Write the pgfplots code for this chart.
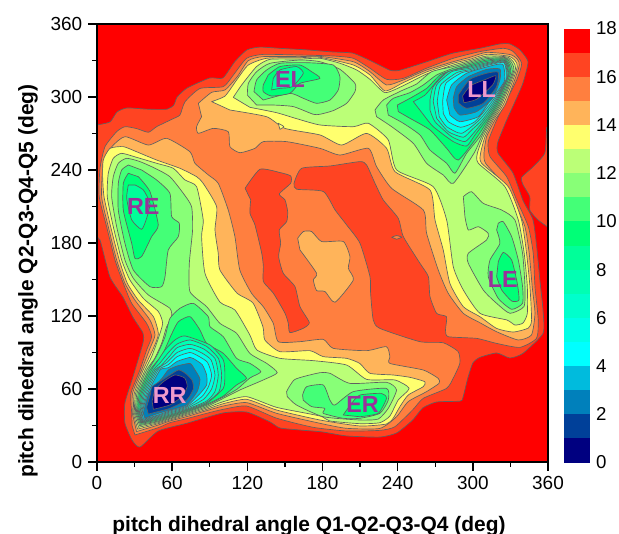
\documentclass[border=0pt]{standalone}
\usepackage{fontspec}
\setmainfont{Liberation Sans}
\usepackage{pgfplots}
\pgfplotsset{compat=1.18}
\definecolor{c0}{HTML}{000080}\definecolor{c1}{HTML}{004099}\definecolor{c2}{HTML}{0080BB}
\definecolor{c3}{HTML}{00BBDD}\definecolor{c4}{HTML}{00FFFF}\definecolor{c5}{HTML}{00FFE6}
\definecolor{c6}{HTML}{00FFCC}\definecolor{c7}{HTML}{00FFB3}\definecolor{c8}{HTML}{00FF99}
\definecolor{c9}{HTML}{00FF77}\definecolor{c10}{HTML}{44FF77}\definecolor{c11}{HTML}{88FF77}
\definecolor{c12}{HTML}{BBFF77}\definecolor{c13}{HTML}{FFFF6E}\definecolor{c14}{HTML}{FFB45A}
\definecolor{c15}{HTML}{FF7F3F}\definecolor{c16}{HTML}{FF4422}\definecolor{c17}{HTML}{FF0000}
\definecolor{cg}{HTML}{606060}\definecolor{lpink}{HTML}{EE99CC}\definecolor{lpurp}{HTML}{993399}
\pgfplotsset{lv/.style={draw=cg,line width=0.5pt,line join=round,mark=none,forget plot,smooth,tension=0.35}}
\begin{document}
\begin{tikzpicture}
\path[use as bounding box] (0,0) rectangle (464.25pt,400.5pt);
\begin{axis}[at={(72.75pt,54pt)},anchor=south west,scale only axis,width=338.25pt,height=328.5pt,
 xmin=0,xmax=360,ymin=0,ymax=360,xtick={0,60,...,360},ytick={0,60,...,360},minor x tick num=1,minor y tick num=1,
 xtick pos=bottom,ytick pos=left,tick align=outside,major tick length=6.6pt,minor tick length=3.6pt,
 tick style={black,line width=1.1pt},axis line style={line width=1.2pt},axis on top,
 /pgf/number format/assume math mode=true,
 tick label style={font=\fontsize{14.2}{15}\selectfont},
 xticklabel style={yshift=-0.5pt},yticklabel style={xshift=-1pt},
 xlabel={pitch dihedral angle Q1-Q2-Q3-Q4 (deg)},ylabel={pitch dihedral angle Q2-Q3-Q4-Q5 (deg)},
 label style={font=\fontsize{15.7}{17}\selectfont\bfseries},
 xlabel style={at={(axis description cs:0.47,-0.146)},anchor=center},
 ylabel style={at={(axis description cs:-0.153,0.413)},anchor=center}]
\addplot[fill=c17,draw=none,forget plot] coordinates {(0,0)(360,0)(360,360)(0,360)} --cycle;
% level 17
\addplot[lv,fill=c16] coordinates {(0,277)(10.4,279.5)(16,287.7)(24,291)(40,290)(56,290)(61.4,293.5)(64,300)(72,307.4)(90,315.6)(100.5,315.6)(110,329)(119.7,338.7)(130,341)(146,340)(167.6,338.7)(188.3,337)(204.3,336)(220,329)(233.8,322)(241.8,322)(263.3,329)(284,336)(305.6,340)(321.6,343.6)(329.6,343.6)(337.5,338.7)(344,329)(340,311.5)(333.6,296)(327,281)(320,263)(320,254)(332,237.6)(340,215)(348,199)(351,176.7)(353.5,149.6)(356,125)(356,105.7)(340,89.3)(329.6,85.5)(319,89.6)(305.6,86)(300,81.4)(296,69)(292,52.6)(289.7,50)(271,49.3)(260,44.4)(252,34.5)(239.4,24)(226,20.5)(199.5,21.4)(180,24.7)(162,26.3)(146,28)(138,33)(119.7,41)(100.5,40.3)(71.5,31.8)(48.9,25.5)(34.3,12.3)(28,18)(22.3,32)(22.3,48.5)(28.7,70)(36.7,97.8)(36.7,106)(28.7,119)(20.7,135.6)(10.4,152)(2.4,182.5)(-3,190.7)(-3,277)} --cycle;
\addplot[lv,fill=c16] coordinates {(362,275)(359,275)(357.5,254)(348,242.5)(339,234)(340,228)(345.5,218)(345.5,207)(352,199)(360,193)(362,193)} --cycle;
% level 16
\addplot[lv,fill=c15] coordinates {(30.3,22.2)(48.9,28.2)(58.2,32.3)(71.5,35.6)(87.5,40)(100.8,43.3)(119.4,46)(143.4,36)(172.6,28.5)(199.2,25.5)(225.8,26)(237.8,29)(252.4,43.3)(260.4,52.3)(279,60.5)(284.3,68.7)(289.6,81)(288.3,90.7)(276.3,98)(257.7,98.9)(225.8,109.8)(220.5,116.7)(218.4,138.7)(217.9,152.4)(209.9,179.8)(199.3,194.8)(190,207.2)(180.7,222.3)(159.4,224.2)(157.3,229.1)(163.4,241.4)(186,243.3)(209.9,246.9)(215.2,244.2)(221.9,229.1)(228.5,215.4)(240.5,200.3)(244.5,185.3)(257.8,163.3)(264.5,152.4)(265.8,136)(271.1,122.2)(279,119.4)(278.2,108.5)(280.3,103)(303,101.6)(318.9,97.5)(337.5,94.2)(350.8,101.6)(352.2,116.7)(349.6,144)(348.2,171.5)(344.3,193.4)(335,215.3)(327,234.5)(313.7,251)(312.3,263.3)(319,281)(327,297.5)(335,314)(339,327.7)(332.3,337.3)(324.3,340)(305.7,337.3)(284.4,331.8)(263,323.6)(244.5,315.3)(231.2,314.5)(217.9,323.6)(204.6,331.8)(188.6,333.7)(162,334.5)(132.7,335)(119.4,331.8)(108.8,318)(100.8,308.5)(82.2,307)(70.2,296)(66.2,285.2)(59.6,281.6)(47.6,275.6)(41,271)(31.7,274)(22.4,275.6)(15.7,271.5)(6.4,259.2)(2.4,241.4)(1.8,218)(7.7,193.4)(14.4,166)(21,146.9)(27.7,130.4)(39.6,114)(43.6,103)(39.6,92)(34.3,75.6)(27.1,56.4)(27.7,40)(28,30)} --cycle;
\addplot[lv,fill=c16] coordinates {(118.2,225)(130.1,240.6)(146.1,237.9)(154.6,235.1)(154.6,229.1)(145.5,220.3)(150.1,215.4)(152.2,205.8)(151.4,197.6)(145.5,190.7)(146.6,179.8)(145,168.8)(148.7,155.1)(158,144.2)(162,127.7)(169.5,114.6)(164.7,109.9)(154,106.3)(152.7,114)(150.1,122.2)(140.8,138.7)(132.8,148.3)(132.8,160.6)(131.5,171.6)(126.1,194.8)(122.1,204.4)(122.7,215.4)} --cycle;
\addplot[lv,fill=c15] coordinates {(235.2,184.7)(239.2,186.1)(243.2,184.7)(239.2,183.1)} --cycle;
% level 15
\addplot[lv,fill=c14] coordinates {(31.6,25)(48.9,30.4)(58.2,33.7)(71.5,37.3)(87.5,42.2)(100.8,46)(119.4,48.8)(143.4,40)(178,31.8)(199,27.7)(225.8,27.6)(239.1,37.2)(248.4,49.6)(263,57.8)(273,64.6)(272.4,68.7)(260.4,75.6)(233.8,81)(233.8,86.6)(231,94.8)(215.2,91.5)(188.6,93.4)(180.6,100.8)(162,98.9)(144.7,98.9)(140.7,114)(132.7,127.7)(123.4,138.6)(114,157.8)(110.1,185.2)(104.8,207)(96.8,229)(88.8,236)(78.2,245.5)(74.2,255)(55.6,266)(41,260.5)(22.4,267.4)(11.7,259)(5,245.5)(3.7,218)(9,193.4)(15.7,166)(22.3,146.9)(30.3,133)(42.3,116.7)(46.3,104.4)(42.3,93.4)(35.6,75.6)(28.4,56.4)(28.2,40)} --cycle;
\addplot[lv,fill=c14] coordinates {(80.9,294.8)(91.5,303.8)(102.2,305.8)(112,316.7)(120.8,329.9)(132.7,333.2)(162,333.2)(178,333.4)(204.6,329)(217.9,320.8)(231.2,309.9)(244.5,314)(263.1,322.2)(284.4,329)(297.7,332.6)(311,336.7)(331,334.5)(337.1,326.3)(326.4,294.8)(317.7,281.1)(311,267.4)(308.9,253.7)(310.2,245.5)(324.3,229)(333.6,212.6)(341.6,193.4)(345,171.5)(347.4,144.1)(349.6,122.2)(346.8,104.4)(336.2,100.3)(318.9,107.1)(305.6,114.5)(292.4,122.2)(280.4,138.6)(272.4,157.8)(263.1,188)(260.5,207.1)(235.2,224.9)(223.2,242.7)(216.6,257.8)(194,252.3)(178,257.8)(151.4,263.3)(132.7,263.3)(126.1,257.8)(114.1,254.2)(106.1,259.2)(104.8,271.5)(92.8,274.2)(80.9,270.1)(79.5,275.6)(83.5,283.8)} --cycle;
\addplot[lv,fill=c14] coordinates {(160.2,183.9)(164.7,189.4)(171.4,189.4)(179.3,181.2)(196.6,181.2)(201.9,168.8)(200.6,159.2)(204.6,149.6)(190,131.3)(182,140.1)(175.3,140.9)(172.7,149.6)(175.3,155.1)(162,174.3)} --cycle;
% level 14
\addplot[lv,fill=c13] coordinates {(32.4,27)(48.9,31.5)(58.2,34.5)(71.5,38.4)(87.5,43.3)(100.8,47.9)(119.4,51.5)(143.4,42.7)(178,34.5)(209.8,29.6)(231,31.2)(236.4,35.9)(241.8,45.5)(248.4,55)(260.4,61.9)(261.7,66)(249.7,69.6)(236.4,71.5)(217.8,72.9)(209.8,81)(199.2,85.2)(180.6,86.6)(170,91.5)(146,90.7)(134,100.3)(132.5,111)(124.5,130.7)(111.7,138.9)(98.1,157.8)(96.8,171.5)(94.2,190.7)(95.5,209.9)(84.8,229)(79.5,234.5)(66.2,241.4)(47.6,248.2)(31.6,255)(21,259.2)(10.4,257.8)(5,248.2)(4.5,234.5)(5.6,218)(10.9,193.4)(17.8,166)(24.2,146.9)(33,133)(45,119.5)(49,105.2)(45,93.4)(36.9,75.6)(29.8,56.4)(29,40)} --cycle;
\addplot[lv,fill=c13] coordinates {(91.5,296.2)(102.2,300.8)(111.5,314)(120.8,326.3)(135.4,331.8)(162,332.3)(178,332.6)(204.6,326.3)(217.9,318.1)(229.9,305)(244.5,311.8)(263.1,320.6)(284.4,327.7)(297.7,331)(311,335)(329.6,333.2)(335.5,325)(324.8,294.8)(316.3,281.1)(309.7,267.4)(306.2,253.7)(307,245.5)(328.3,226.3)(338.9,198.9)(342.9,171.5)(345.6,144.1)(346.9,116.7)(344.3,110.1)(332.3,106.8)(319,109.8)(305.7,119.4)(292.4,127.7)(281.7,146.8)(276.4,174.2)(269.8,198.9)(265.8,223.6)(237.9,238.6)(231.2,257.8)(215.2,270.1)(195.3,260.5)(178,268.8)(150,274.2)(135.4,283.8)(106.1,289.3)} --cycle;
\addplot[lv,fill=c13] coordinates {(144.7,278.4)(149.2,275.6)(146,273.4)} --cycle;
% level 13
\addplot[lv,fill=c12] coordinates {(33.2,28.5)(48.9,32.3)(58.2,35.3)(71.5,39.2)(87.5,44.4)(100.8,49.6)(119.4,53.7)(143.4,44.9)(178,37.8)(185.9,33.7)(209.8,31.5)(225.8,32.3)(233.8,37.8)(240.4,50.9)(249.2,60.5)(237.8,67.4)(215.2,67.9)(199.2,79.7)(172.6,83.3)(146,85.2)(127.7,92)(122,104.4)(110.1,124.9)(98.1,131.5)(86.2,155)(83.5,185.2)(84.8,198.9)(79.5,226.3)(70.2,231.8)(60.9,241.4)(47.6,245.5)(31.6,250.4)(19.7,253.7)(13,249.6)(9,237.3)(8.2,218)(13,193.4)(19.7,166)(26.3,149.6)(37,134.5)(49,123.6)(52.4,114)(49,101.7)(43.6,86.6)(38.3,75.6)(30.8,56.4)(29.8,40)} --cycle;
\addplot[lv,fill=c12] coordinates {(108.8,299.7)(115.5,309.9)(127.4,325)(138.1,331)(162,331.2)(178,331.8)(194,327.7)(207.3,322.2)(217.9,314.5)(229.9,303.6)(244.5,309.3)(263.1,318.9)(284.4,326.3)(297.7,329.9)(311,333.7)(328.3,332.6)(334.1,323.6)(323.5,294.8)(315.3,281.1)(308.3,267.4)(303.6,253.7)(304.4,245.5)(325.6,226.3)(336.3,198.9)(341,171.5)(343.5,144.1)(343.5,122.2)(340,114.2)(333.6,112.6)(327.2,116.7)(305.7,122.2)(292.4,141.4)(284.4,160.5)(279.1,198.9)(268.4,226.3)(239.2,240)(232.5,264.7)(216.6,278.4)(204.6,275.6)(178,277)(159.3,282.2)(143.4,287.1)(122.1,291.5)} --cycle;
% level 12
\addplot[lv,fill=c11] coordinates {(34,29.9)(48.9,33.1)(58.2,35.9)(71.5,40)(87.5,45.5)(100.8,52.3)(114.1,59.2)(132.7,67.4)(143.9,73.4)(135.4,81.1)(122,89.3)(111.4,105.8)(98.1,114)(87.5,127.7)(74.2,140)(73.7,163.3)(76.3,190.7)(75.5,209.9)(68.9,220.8)(58.2,234.5)(46.3,241.4)(34.3,246.9)(23.7,249.6)(17,245.5)(13,234.5)(11.7,218)(15.7,193.4)(22.3,166)(29,151)(41,137.3)(58.2,126.3)(59.6,118)(55.6,111.2)(51.6,97.5)(46,85)(39.6,75.6)(31.9,56.4)(30.6,40)} --cycle;
\addplot[lv,fill=c11] coordinates {(151.3,57.8)(158,67.9)(177.9,73.4)(185.9,72.9)(201.9,64.6)(231.1,65.5)(239.1,59.2)(232.5,44.1)(224.5,35.3)(209.8,34.5)(180.6,37.2)(159.3,46.8)(151.9,53.7)} --cycle;
\addplot[lv,fill=c11] coordinates {(120,301.6)(120.8,311.2)(127.4,320.8)(138.1,327.7)(162,330.4)(178,329)(194,322.7)(205.9,311.2)(205.9,304.4)(199.3,294.8)(188.6,288.8)(178,285.8)(172.6,285.8)(156.7,292.1)(140.7,293.4)(127.4,293.4)} --cycle;
\addplot[lv,fill=c11] coordinates {(221.9,289.3)(228.5,297.5)(243.2,305.2)(255.1,310.7)(267.1,320.8)(284.4,325)(297.7,328.8)(311,332.6)(327.5,332)(332.8,322.2)(322.4,294.8)(314.2,281.1)(307,267.4)(300.9,253.7)(284.4,229)(276.4,235.9)(263.1,245.5)(252.5,261.9)(235.2,275.6)(223.2,283.8)} --cycle;
\addplot[lv,fill=c11] coordinates {(292.4,218.1)(299,222.2)(308.3,212.6)(323,207.1)(333.6,198.9)(339.7,171.5)(341.6,144.1)(340.8,127.7)(329.6,122.2)(319,130.4)(308.3,141.4)(296.4,163.3)(296.4,171.5)(311,182.5)(312.3,188)(304.4,193.4)(296.4,190.7)(293.7,201.6)} --cycle;
% level 11
\addplot[lv,fill=c10] coordinates {(25,244.1)(19.7,240)(17,229)(17,207)(22.3,179.7)(29,157.8)(42.3,144.1)(51.6,144.1)(54.3,152.3)(56.9,174.3)(64.9,185.2)(65.7,196.2)(59.6,201.7)(58.2,220.8)(47.6,231.8)(35.6,240)} --cycle;
\addplot[lv,fill=c10] coordinates {(34.6,30.9)(48.9,33.7)(58.2,36.7)(71.5,40.8)(87.5,46.6)(100.8,53.4)(112,60)(122,69)(130.9,74.2)(122,81.1)(111.4,85.2)(100.8,103)(90.2,111.2)(88.8,119.5)(76.9,130.4)(66.2,126.3)(58.2,118)(54.3,103)(48,88)(41,75.6)(33,56.4)(31.4,40)} --cycle;
\addplot[lv,fill=c10] coordinates {(164.1,55)(167.3,61.9)(180.6,63.3)(185.9,50.9)(189.9,46.8)(204.5,57.8)(231.1,60.5)(232.5,50.9)(225.8,40)(209.8,35.9)(196.5,35.9)(180.6,40)(181.9,44.1)(171.3,45.5)(164.6,50.9)} --cycle;
\addplot[lv,fill=c10] coordinates {(125.3,304.4)(127.4,314)(135.4,322.2)(146,327.7)(167.3,328.2)(188.6,326.3)(193.9,316.7)(192.6,305.8)(186,297.5)(175.3,294.8)(164.7,298.9)(154,303)(132.7,297.5)} --cycle;
\addplot[lv,fill=c10] coordinates {(231.2,293.4)(236.5,298.9)(249.8,303.6)(260.5,309.9)(271.1,318.1)(284.4,323.6)(297.7,327.7)(311,331.5)(327,331.5)(331.5,320.8)(321.4,294.8)(313.1,281.1)(305.7,267.4)(295,253.7)(285.7,237.3)(279.1,245.5)(265.8,256.4)(257.8,268.8)(244.5,278.4)(232.5,285.2)} --cycle;
\addplot[lv,fill=c10] coordinates {(320.3,196.2)(324.3,197.5)(331,185.2)(336.3,166)(339.7,144.1)(339.7,130.4)(331,125.5)(320.3,134.5)(312.3,152.3)(313.7,166)(321.6,179.7)(319,190.7)} --cycle;
% level 10
\addplot[lv,fill=c9] coordinates {(25,237.3)(21,229)(21,207)(27.7,179.7)(30.3,167.4)(35.6,168.8)(43.6,185.2)(48.9,194.8)(42.3,222.2)(33,234.5)} --cycle;
\addplot[lv,fill=c9] coordinates {(35.1,31.8)(48.9,34.5)(58.2,37.3)(71.5,41.4)(87.5,47.4)(100.8,54.2)(111.4,63.3)(119.4,68.8)(111.4,77)(100.8,89.3)(87.5,97.5)(82.2,108.5)(74.2,119.5)(64.9,115.3)(59.6,105.2)(52,88)(42.3,75.6)(34,56.4)(32.2,40)} --cycle;
\addplot[lv,fill=c9] coordinates {(196.5,38.6)(203.2,48.2)(209.8,55)(227.1,56.4)(231.1,52.3)(224.5,40)(209.8,37.2)} --cycle;
\addplot[lv,fill=c9] coordinates {(132.7,309.9)(132.7,304.4)(139.4,300.8)(154,303)(162,311.2)(178,315.3)(171.3,320.8)(162,326.3)(146,325)(136.7,318.1)} --cycle;
\addplot[lv,fill=c9] coordinates {(239.7,293.4)(249.8,298.9)(263.1,307.1)(273.8,318.1)(284.4,322.2)(297.7,326.6)(311,330.4)(326.4,331)(330.2,320)(320.3,294.8)(312.1,281.1)(303.6,267.4)(288.4,248.2)(279.1,257.8)(265.8,272.9)(249.8,282.5)(240.5,288)} --cycle;
\addplot[lv,fill=c9] coordinates {(320.3,164.6)(324.3,172.3)(331,166)(335.5,146.8)(336.8,133.1)(331,132.3)(323,141.4)(319,152.3)} --cycle;
% level 9
\addplot[lv,fill=c8] coordinates {(25,227.7)(23.7,216.7)(27.7,199)(35.6,191.2)(39.6,200.3)(42.3,212.6)(37,223.6)(30.3,227.7)} --cycle;
\addplot[lv,fill=c8] coordinates {(35.4,32.3)(48.9,35.3)(58.2,38)(71.5,42.2)(87.5,48.2)(100.8,60.5)(102.1,71.5)(100.8,84)(90.2,96.2)(70.2,103.6)(62.2,100.3)(54.2,92)(48.9,83.8)(43.6,75.6)(35.1,56.4)(33,40)} --cycle;
\addplot[lv,fill=c8] coordinates {(139.4,305.8)(146,307.1)(156,308.5)(164.7,319.5)(159.4,325)(146,322.2)(140.7,315.3)} --cycle;
\addplot[lv,fill=c8] coordinates {(252.5,296.2)(261.8,301.6)(269.8,311.2)(277.8,319.5)(297.7,325.5)(311,329.3)(325.9,330.4)(329.1,319.5)(319.2,294.8)(310.7,281.1)(301.7,268.8)(295,259.7)(284.4,263.3)(268.4,275.6)(261.8,283.8)} --cycle;
% level 8
\addplot[lv,fill=c7] coordinates {(35.6,32.8)(48.9,36)(58.2,38.6)(71.5,42.7)(87.5,49)(97.5,58)(99.5,71.5)(97,85)(87.5,95)(74.2,100.3)(64,97)(57,90)(50,81)(45,75.6)(36.1,56.4)(33.8,40)} --cycle;
\addplot[lv,fill=c7] coordinates {(265.8,297.5)(268.4,308.5)(280.4,320.8)(297.7,324.7)(311,328.2)(325.6,329.9)(328.3,318.1)(318.2,294.8)(309.1,281.1)(300.4,270.1)(293.7,263.3)(283.1,267.4)(269.8,279.7)(265.8,289.3)} --cycle;
% level 7
\addplot[lv,fill=c6] coordinates {(35.9,33.1)(48.9,36.7)(58.2,39.4)(71.5,43.3)(87.5,50.1)(94.2,58)(96.8,71.5)(94.2,85)(85,93)(74.2,96.7)(64,94)(58,87)(51,79)(46.3,75.6)(37.2,56.4)(34.3,40)} --cycle;
\addplot[lv,fill=c6] coordinates {(268.4,296.2)(271.1,309.9)(283.1,320.8)(297.7,323.6)(311,327.4)(325.4,329.3)(327.8,316.7)(317.1,294.8)(307.5,281.1)(299,272.9)(292.4,266.9)(280.4,271.5)(271.1,282.5)} --cycle;
% level 6
\addplot[lv,fill=c5] coordinates {(36.2,33.7)(48.9,37.3)(58.2,40.3)(71.5,44.1)(85,51.5)(91.5,60)(94.2,71.5)(91,84)(83,90)(74.2,93.4)(64,90)(56,82)(47.6,75.6)(38.3,56.4)(34.8,40)} --cycle;
\addplot[lv,fill=c5] coordinates {(271.6,296.2)(274.3,309.9)(287.1,320)(297.7,322.5)(311,326.6)(325.1,328.8)(327,315.3)(315.8,294.8)(305.1,281.1)(291.1,270.1)(279.1,275.6)(273.2,283.8)} --cycle;
% level 5
\addplot[lv,fill=c4] coordinates {(36.4,34.2)(48.9,38)(58.2,41.1)(71.5,45)(84,54)(89,62)(91.5,71.5)(88.2,82)(81,87)(74.2,90)(64,86.6)(57,80)(48.9,75.6)(39.4,56.4)(35.4,40)} --cycle;
\addplot[lv,fill=c4] coordinates {(275.9,296.2)(278.5,311.2)(291.1,320)(297.7,321.4)(311,325.8)(324.8,328.2)(326.4,314)(314.2,294.8)(301.7,279.7)(290.3,275.1)(280.4,279.7)(276.4,286.6)} --cycle;
% level 4
\addplot[lv,fill=c3] coordinates {(37,35)(48.9,38.6)(58.2,41.9)(71.5,45.8)(82,56)(87.5,63.3)(87.5,71.5)(84,80)(77,85)(74.2,86)(64,82.7)(57,77.5)(50.3,75.6)(40.4,56.4)(35.9,40)} --cycle;
\addplot[lv,fill=c3] coordinates {(279.1,297.5)(283.1,309.9)(295,319.5)(311,324.7)(323.8,326.9)(325.1,312.6)(312.3,294.8)(304.4,283.8)(289.7,279.7)(281.7,285.2)} --cycle;
% level 3
\addplot[lv,fill=c2] coordinates {(38.3,36)(48.9,40)(58.2,42.7)(71.5,46.9)(80,58)(82.2,68)(78,76)(74.2,81)(64,78.9)(56.9,75.6)(51.9,68.8)(41.5,56.4)(37,40)} --cycle;
\addplot[lv,fill=c2] coordinates {(284.4,298.9)(287.1,308.5)(296.4,316.7)(311,322.7)(321.6,323)(321.6,314)(315.8,298.9)(303,288)(289.7,285.2)(284.9,291.5)} --cycle;
% level 2
\addplot[lv,fill=c1] coordinates {(41,39.4)(48.9,41.5)(58.2,44.1)(71.5,50.9)(76.9,60)(76,67)(71,72.5)(64.9,75.6)(54.2,68.8)(44,62)(42.8,56.4)(39.6,45)} --cycle;
\addplot[lv,fill=c1] coordinates {(288.4,301.7)(297.7,314.5)(311,319.5)(320.3,320.3)(319,308.5)(308.3,294.8)(295,290.7)(288.4,295.3)} --cycle;
% level 1
\addplot[lv,fill=c0] coordinates {(45,43.3)(58.2,46.9)(68,54)(72,62)(70,69)(62,71.5)(53,66)(46.3,59)(44,50)} --cycle;
\addplot[lv,fill=c0] coordinates {(291.8,300.8)(298.2,309.3)(311,314.8)(318.4,317.5)(315.8,309.9)(303,298.1)(292.9,295.3)} --cycle;
% labels
\node[font=\fontsize{17.5}{18}\selectfont\bfseries,text=lpink] at (axis cs:58,55) {RR};
\node[font=\fontsize{17.5}{18}\selectfont\bfseries,text=lpink] at (axis cs:307,306.5) {LL};
\node[font=\fontsize{17.5}{18}\selectfont\bfseries,text=lpurp] at (axis cs:37,210) {RE};
\node[font=\fontsize{17.5}{18}\selectfont\bfseries,text=lpurp] at (axis cs:154,314) {EL};
\node[font=\fontsize{17.5}{18}\selectfont\bfseries,text=lpurp] at (axis cs:324,150) {LE};
\node[font=\fontsize{17.5}{18}\selectfont\bfseries,text=lpurp] at (axis cs:212,47) {ER};
\end{axis}
\begin{axis}[at={(423pt,53.6pt)},anchor=south west,scale only axis,width=19.5pt,height=325.5pt,
 xmin=0,xmax=1,ymin=0,ymax=18,hide x axis,axis y line*=right,y axis line style={draw=none},
 ytick={0,2,...,18},major tick length=0pt,
 /pgf/number format/assume math mode=true,
 yticklabel style={font=\fontsize{14}{15}\selectfont,xshift=1pt}]
\addplot[fill=c0,draw=none] coordinates {(0,0)(1,0)(1,1)(0,1)} --cycle;
\addplot[fill=c1,draw=none] coordinates {(0,1)(1,1)(1,2)(0,2)} --cycle;
\addplot[fill=c2,draw=none] coordinates {(0,2)(1,2)(1,3)(0,3)} --cycle;
\addplot[fill=c3,draw=none] coordinates {(0,3)(1,3)(1,4)(0,4)} --cycle;
\addplot[fill=c4,draw=none] coordinates {(0,4)(1,4)(1,5)(0,5)} --cycle;
\addplot[fill=c5,draw=none] coordinates {(0,5)(1,5)(1,6)(0,6)} --cycle;
\addplot[fill=c6,draw=none] coordinates {(0,6)(1,6)(1,7)(0,7)} --cycle;
\addplot[fill=c7,draw=none] coordinates {(0,7)(1,7)(1,8)(0,8)} --cycle;
\addplot[fill=c8,draw=none] coordinates {(0,8)(1,8)(1,9)(0,9)} --cycle;
\addplot[fill=c9,draw=none] coordinates {(0,9)(1,9)(1,10)(0,10)} --cycle;
\addplot[fill=c10,draw=none] coordinates {(0,10)(1,10)(1,11)(0,11)} --cycle;
\addplot[fill=c11,draw=none] coordinates {(0,11)(1,11)(1,12)(0,12)} --cycle;
\addplot[fill=c12,draw=none] coordinates {(0,12)(1,12)(1,13)(0,13)} --cycle;
\addplot[fill=c13,draw=none] coordinates {(0,13)(1,13)(1,14)(0,14)} --cycle;
\addplot[fill=c14,draw=none] coordinates {(0,14)(1,14)(1,15)(0,15)} --cycle;
\addplot[fill=c15,draw=none] coordinates {(0,15)(1,15)(1,16)(0,16)} --cycle;
\addplot[fill=c16,draw=none] coordinates {(0,16)(1,16)(1,17)(0,17)} --cycle;
\addplot[fill=c17,draw=none] coordinates {(0,17)(1,17)(1,18)(0,18)} --cycle;
\end{axis}
\end{tikzpicture}
\end{document}
